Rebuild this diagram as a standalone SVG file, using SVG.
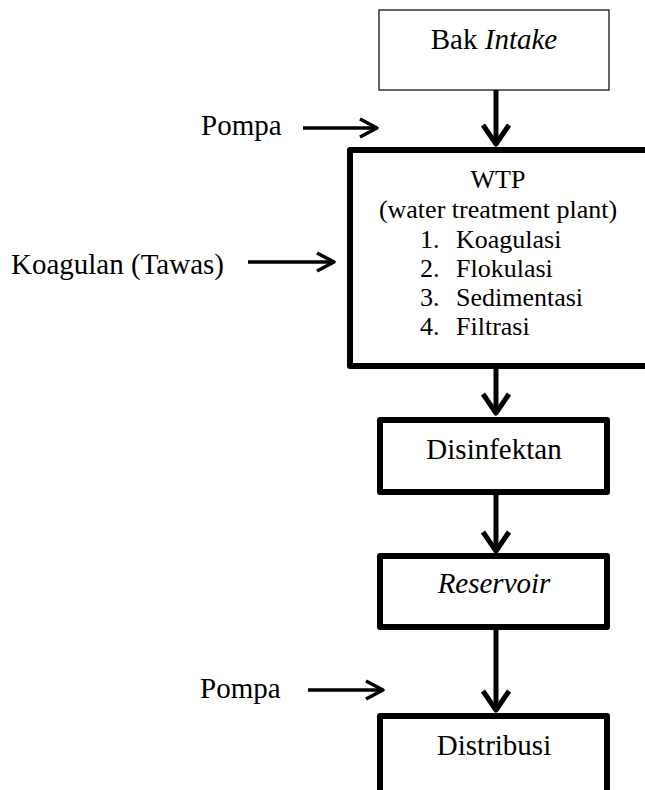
<svg xmlns="http://www.w3.org/2000/svg" width="645" height="790" viewBox="0 0 645 790">
<style>
  .t { font-family: "Liberation Serif", "Times New Roman", serif; fill: #000; }
  .big { font-size: 29px; }
  .mid { font-size: 26px; }
  .c { text-anchor: middle; }
  .thin { fill: #fff; stroke: #000; stroke-width: 1.2; }
  .thick { fill: #fff; stroke: #000; stroke-width: 6; stroke-linejoin: round; }
  .va { fill: none; stroke: #000; stroke-width: 5; stroke-linejoin: round; stroke-linecap: butt; }
  .ha { fill: none; stroke: #000; stroke-width: 3.5; stroke-linejoin: round; stroke-linecap: butt; }
</style>
<rect width="645" height="790" fill="#fff"/>
<g id="connectors">
  <path class="va" d="M496,90 V144"/>
  <path class="va" d="M483,125 L496,144 L509,125"/>
  <path class="va" d="M496,369 V413"/>
  <path class="va" d="M483,394 L496,413 L509,394"/>
  <path class="va" d="M496,495 V551"/>
  <path class="va" d="M483,532 L496,551 L509,532"/>
  <path class="va" d="M496,630 V710"/>
  <path class="va" d="M483,691 L496,710 L509,691"/>
  <path class="ha" d="M303,128 H377"/>
  <path class="ha" d="M360,119 L377,128 L360,137"/>
  <path class="ha" d="M248,262 H334"/>
  <path class="ha" d="M317,253 L334,262 L317,271"/>
  <path class="ha" d="M308,690 H383"/>
  <path class="ha" d="M366,681 L383,690 L366,699"/>
</g>
<g id="bak-intake">
  <rect class="thin" x="379" y="10" width="230" height="80"/>
  <text class="t big c" x="494" y="49">Bak <tspan font-style="italic">Intake</tspan></text>
</g>
<g id="pompa-1">
  <text class="t big" x="201" y="135">Pompa</text>
</g>
<g id="koagulan">
  <text class="t big" x="11" y="274">Koagulan (Tawas)</text>
</g>
<g id="wtp">
  <rect class="thick" x="350" y="150" width="300" height="216"/>
  <text class="t mid c" x="498" y="188">WTP</text>
  <text class="t mid c" x="498" y="218">(water treatment plant)</text>
  <text class="t mid" x="420" y="248">1.</text>
  <text class="t mid" x="456" y="248">Koagulasi</text>
  <text class="t mid" x="420" y="277">2.</text>
  <text class="t mid" x="456" y="277">Flokulasi</text>
  <text class="t mid" x="420" y="306">3.</text>
  <text class="t mid" x="456" y="306">Sedimentasi</text>
  <text class="t mid" x="420" y="335">4.</text>
  <text class="t mid" x="456" y="335">Filtrasi</text>
</g>
<g id="disinfektan">
  <rect class="thick" x="380" y="420" width="227" height="72"/>
  <text class="t big c" x="494" y="459">Disinfektan</text>
</g>
<g id="reservoir">
  <rect class="thick" x="380" y="556" width="227" height="71"/>
  <text class="t big c" x="494" y="593" font-style="italic">Reservoir</text>
</g>
<g id="pompa-2">
  <text class="t big" x="200" y="698">Pompa</text>
</g>
<g id="distribusi">
  <rect class="thick" x="380" y="716" width="227" height="90"/>
  <text class="t big c" x="494" y="755">Distribusi</text>
</g>
</svg>
